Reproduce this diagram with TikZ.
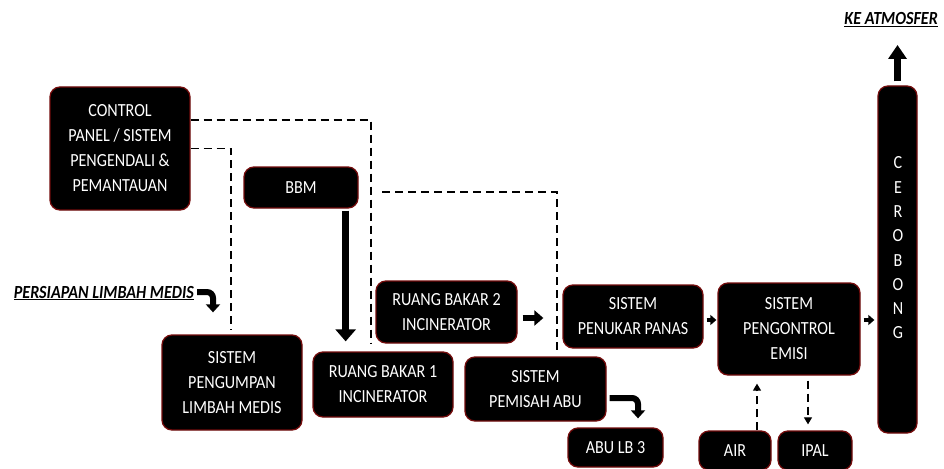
\documentclass[tikz,border=0pt]{standalone}
\usepackage{fontspec}
\setmainfont[FakeStretch=0.87]{Carlito}
\usetikzlibrary{arrows.meta}
\definecolor{edge}{RGB}{115,12,12}
\begin{document}
\begin{tikzpicture}[x=1pt,y=-1pt,
  box/.style={draw=edge, line width=1.3pt, fill=black, rounded corners=10pt,
    text=white, align=center, inner sep=0pt, font=\fontsize{18.5}{25}\selectfont},
  lbl/.style={inner sep=0pt, font=\fontsize{18.5}{20}\selectfont\bfseries\itshape},
  ctl/.style={line width=1.1pt, dash pattern=on 8pt off 5pt},
  dashar/.style={ctl, -{Triangle[width=8pt,length=7pt]}},
  big/.style={line width=7pt, -{Triangle[width=20pt,length=12pt]}},
  mid/.style={line width=6pt, -{Triangle[width=15pt,length=9pt]}},
  small/.style={line width=4pt, -{Triangle[width=10pt,length=6pt]}},
  bent/.style={line width=6pt, rounded corners=6pt, -{Triangle[width=14pt,length=8pt]}},
  upar/.style={line width=7pt, -{Triangle[width=18pt,length=14pt]}}
]
\useasboundingbox (0,0) rectangle (944,468);

% boxes
\node[box, minimum width=140pt, minimum height=123pt] (ctrl) at (120,148.5)
  {CONTROL\\PANEL / SISTEM\\PENGENDALI \&\\PEMANTAUAN};
\node[box, minimum width=114pt, minimum height=41pt] (bbm) at (301,187.5) {BBM};
\node[box, minimum width=141pt, minimum height=62pt] (rb2) at (446.5,312)
  {RUANG BAKAR 2\\INCINERATOR};
\node[box, minimum width=140pt, minimum height=63pt] (pen) at (633,316.5)
  {SISTEM\\PENUKAR PANAS};
\node[box, minimum width=142pt, minimum height=92pt] (emisi) at (789,329)
  {SISTEM\\PENGONTROL\\EMISI};
\node[box, minimum width=39pt, minimum height=347pt] (cer) at (897.5,259.5) {};
\node[text=white, align=center, inner sep=0pt, font=\fontsize{18.5}{24.3}\selectfont]
  (certext) at (898,248) {C\\E\\R\\O\\B\\O\\N\\G};
\node[box, minimum width=140pt, minimum height=95pt] (peng) at (232,382.5)
  {SISTEM\\PENGUMPAN\\LIMBAH MEDIS};
\node[box, minimum width=140pt, minimum height=65pt] (rb1) at (383,384.5)
  {RUANG BAKAR 1\\INCINERATOR};
\node[box, minimum width=141pt, minimum height=64pt] (abu) at (535.5,389)
  {SISTEM\\PEMISAH ABU};
\node[box, minimum width=95pt, minimum height=39pt] (lb3) at (615.5,447.5) {ABU LB 3};
\node[box, minimum width=72pt, minimum height=39pt] (air) at (735,450.5) {AIR};
\node[box, minimum width=74pt, minimum height=39pt] (ipal) at (815,450.5) {IPAL};

% labels
\node[lbl, anchor=base east] (prep) at (194,298) {\underline{PERSIAPAN LIMBAH MEDIS}};
\node[lbl, anchor=base east] (atm) at (938,25) {\underline{KE ATMOSFER}};

% control (dashed) lines
\draw[ctl, shorten >=8pt] ([yshift=28.5pt]ctrl.east) -| ([xshift=-12pt]rb1.north);
\draw[ctl, shorten >=5pt] (ctrl.east) -| ([xshift=-1pt]peng.north);
\coordinate (br) at (382,192);
\draw[ctl, shorten >=5pt] (br) -| ([xshift=21.5pt]abu.north);

% flow arrows
\draw[big, shorten <=2pt, shorten >=10pt] ([xshift=-13pt]bbm.south east) -- ([xshift=-13pt]bbm.south east |- rb1.north);
\draw[mid, shorten <=5pt, shorten >=19pt] ([yshift=-6pt]rb2.east) -- ([yshift=-6pt]rb2.east -| pen.west);
\draw[small, shorten <=3pt, shorten >=1pt] ([yshift=-3.5pt]pen.east) -- ([yshift=-3.5pt]pen.east -| emisi.west);
\draw[small, shorten <=3pt, shorten >=3pt] ([yshift=9pt]emisi.east) -- ([yshift=9pt]emisi.east -| cer.west);
\draw[bent, shorten <=3pt, shorten >=22pt] ([yshift=1pt]prep.east) -| ([xshift=-19pt]peng.north);
\draw[bent, shorten <=3pt, shorten >=9pt] ([yshift=-9pt]abu.east) -| ([xshift=22.5pt]lb3.north);
\coordinate (sky) at (897.5,45);
\draw[upar, shorten <=4pt] (cer.north) -- (sky);

% air / ipal
\draw[dashar, shorten >=8pt] ([xshift=22pt]air.north) -- ([xshift=22pt]air.north |- emisi.south);
\draw[dashar, shorten <=5pt, shorten >=6pt] ([xshift=-7pt]ipal.north |- emisi.south) -- ([xshift=-7pt]ipal.north);
\end{tikzpicture}
\end{document}
